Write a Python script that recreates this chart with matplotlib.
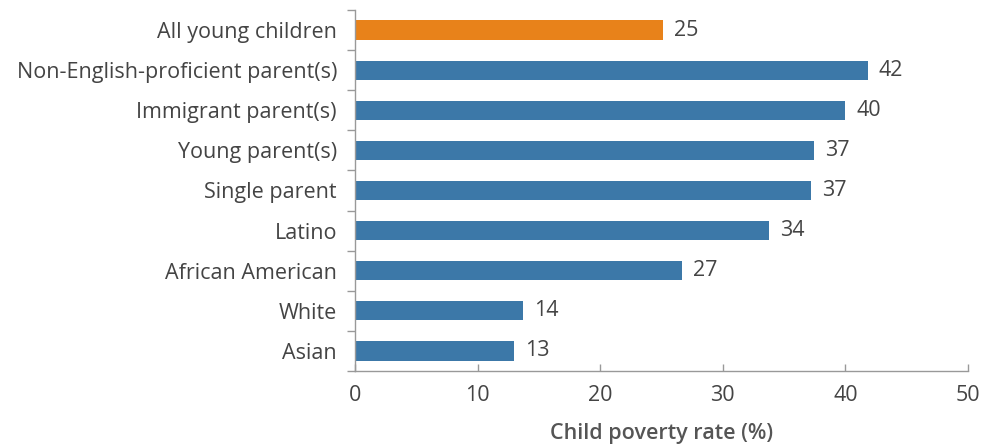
import matplotlib
matplotlib.use("Agg")
import matplotlib.pyplot as plt
import numpy as np

# child poverty rate by group, top to bottom
groups = [
    "All young children",
    "Non-English-proficient parent(s)",
    "Immigrant parent(s)",
    "Young parent(s)",
    "Single parent",
    "Latino",
    "African American",
    "White",
    "Asian",
]
rates = [25.1, 41.8, 40.0, 37.4, 37.2, 33.8, 26.7, 13.7, 13.0]
x_ticks = [0, 10, 20, 30, 40, 50]

BLUE = "#3c78a8"
ORANGE = "#e8821a"
TEXT = "#444444"
AXIS = "#999999"

plt.rcParams["font.family"] = ["Open Sans", "DejaVu Sans"]
FS = 15.5

fig = plt.figure(figsize=(9.87, 4.44), dpi=100)
ax = fig.add_axes([0.3597, 0.1644, 0.6211, 0.8131])

y = np.arange(len(groups))
colors = [ORANGE] + [BLUE] * (len(groups) - 1)
ax.barh(y, rates, height=0.48, color=colors, zorder=2)

for yi, v in zip(y, rates):
    ax.text(v + 0.9, yi, f"{v:.0f}", va="center", ha="left",
            fontsize=FS, color=TEXT)

ax.set_ylim(len(groups) - 0.5, -0.5)
ax.set_xlim(0, 50)

# category labels sit at bar centres, tick marks at the boundaries
ax.set_yticks(y)
ax.set_yticklabels(groups, fontsize=FS, color=TEXT)
ax.tick_params(axis="y", length=0, pad=13)
ax.set_yticks(np.arange(len(groups) + 1) - 0.5, minor=True)
ax.tick_params(axis="y", which="minor", length=6, width=1, color=AXIS, direction="out")

ax.set_xticks(x_ticks)
ax.set_xticklabels([str(t) for t in x_ticks], fontsize=FS, color=TEXT)
ax.tick_params(axis="x", length=5, width=1, color=AXIS, direction="in", pad=10)

for side in ("top", "right"):
    ax.spines[side].set_visible(False)
for side in ("left", "bottom"):
    ax.spines[side].set_color(AXIS)
    ax.spines[side].set_linewidth(1)

ax.set_xlabel("Child poverty rate (%)", fontsize=FS, color="#555555",
              fontweight="semibold", labelpad=12)

fig.savefig("out.png", dpi=100)
